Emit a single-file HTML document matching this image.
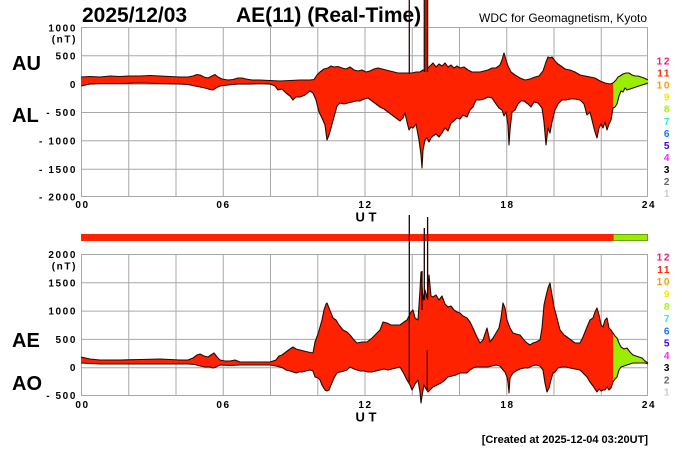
<!DOCTYPE html>
<html><head><meta charset="utf-8"><style>
html,body{margin:0;padding:0;background:#fff;width:700px;height:450px;overflow:hidden}
svg{display:block}
.t{font-family:"Liberation Sans",Arial,sans-serif;font-weight:bold}
.ax{font-family:"Liberation Sans",Arial,sans-serif;font-weight:bold;font-size:10px;letter-spacing:1.6px}
</style></head><body>
<svg width="700" height="450" viewBox="0 0 700 450" xmlns="http://www.w3.org/2000/svg">
<rect width="700" height="450" fill="#fff"/>
<!-- titles -->
<text class="t" x="82" y="22" font-size="21">2025/12/03</text>
<text class="t" x="236" y="22" font-size="21">AE(11) (Real-Time)</text>
<text x="479" y="22" font-size="12" font-family="Liberation Sans, Arial, sans-serif">WDC for Geomagnetism, Kyoto</text>

<!-- grid top -->
<g stroke="#a8a8a8" stroke-width="1" fill="none">
<path d="M81.5 27V197M128.75 27V197M176 27V197M223.25 27V197M270.5 27V197M317.75 27V197M365 27V197M412.25 27V197M459.5 27V197M506.75 27V197M554 27V197M601.25 27V197M647.5 27V197"/>
<path d="M81 27.5H648M81 55.8H648M81 84.2H648M81 112.5H648M81 140.8H648M81 169.2H648M81 196.5H648"/>
<path d="M81.5 254V395.5M128.75 254V395.5M176 254V395.5M223.25 254V395.5M270.5 254V395.5M317.75 254V395.5M365 254V395.5M412.25 254V395.5M459.5 254V395.5M506.75 254V395.5M554 254V395.5M601.25 254V395.5M647.5 254V395.5"/>
<path d="M81 254.5H648M81 282.8H648M81 311.1H648M81 339.4H648M81 367.7H648M81 395.5H648"/>
</g>

<!-- TOP CHART fill -->
<polygon fill="#ff2200" points="81,77 90,76.5 100,77 110,76 120,76.5 130,76 140,76 150,75.5 160,76 170,76.5 180,77 188,77 193,76 197,74.5 200,75 204,77 208,78 212,76 215,74.5 218,77 222,79 228,80 233,79.5 238,78 242,78 246,79 252,80 260,80 270,80.5 280,81 290,80.5 300,80 310,80 314,79.5 317,75 320,72 324,69 328,68 331,66 334,67 338,66.5 342,68 346,69 350,67 354,70 358,71 362,70 366,72 370,71 374,69 378,68 382,69 386,70 390,71 394,72 398,73 402,73 406,73 412,73 416,72 420,72 423,70 426,70 430,66 433,63 436,67 439,64 442,66 445,63 448,67 451,65 454,68 457,66 460,68 464,67 468,70 472,72 476,72 480,72 484,71 488,70 492,68 496,68 500,65 502,60 504,53 506,60 508,66 511,72 515,75 520,78 525,80 530,79 535,77 539,76 543,71 546,62 548,57 550,58 552,57 555,61 558,64 561,66 565,69 570,70 575,72 580,75 585,76 590,77 595,78 600,81 605,83 610,84 613,83 613,108 611,120 609,124 607,130 605,122 603,128 601,124 599,128 597,138 595,132 593,124 590,112 587,115 584,104 580,100 575,99 570,99 566,100 562,100 558,104 555,110 552,122 550,133 548,128 546,145 544,122 542,108 538,103 534,102 531,107 528,104 524,101 521,101 518,104 515,110 512,112 510,130 509,145 508,125 506,112 504,116 502,110 499,108 496,104 492,98 488,97 484,99 480,100 476,100 473,107 470,110 467,117 463,115 460,119 457,118 454,121 451,123 448,131 445,128 442,133 439,137 436,134 433,136 431,138 429,142 427,138 425,140 423,150 422,168 421,155 419,140 416,124 413,128 411,127 409,130 407,122 405,113 403,118 400,121 396,118 392,115 388,112 384,109 380,107 376,104 372,101 368,98 364,99 360,101 356,101 352,102 348,103 344,104 340,103 337,106 334,117 331,128 329,135 327,140 325,125 322,118 319,112 316,100 313,93 310,91 305,95 300,97 296,97 293,100 290,96 286,93 282,89 278,90 275,86 270,84 260,83.5 250,84 238,84 228,85 220,86 216,88 213,90 210,89.5 205,88 200,87 195,86 188,84.5 180,84 160,83.5 140,83 120,83.5 100,83.5 90,84 81,86"/>
<polygon fill="#99ee00" points="613,83 616,80 618,77 620,76 623,74 626,73 629,73 632,75 635,76 638,76 641,77 644,78 646,79 648,80 648,83 645,84 642,85 639,86 636,87 633,88 630,89 627,90 625,88 623,92 621,91 619,96 617,104 615,107 613,108"/>
<g fill="none" stroke="#2a0800" stroke-width="1.1" stroke-linejoin="round">
<polyline points="81,77 90,76.5 100,77 110,76 120,76.5 130,76 140,76 150,75.5 160,76 170,76.5 180,77 188,77 193,76 197,74.5 200,75 204,77 208,78 212,76 215,74.5 218,77 222,79 228,80 233,79.5 238,78 242,78 246,79 252,80 260,80 270,80.5 280,81 290,80.5 300,80 310,80 314,79.5 317,75 320,72 324,69 328,68 331,66 334,67 338,66.5 342,68 346,69 350,67 354,70 358,71 362,70 366,72 370,71 374,69 378,68 382,69 386,70 390,71 394,72 398,73 402,73 406,73 412,73 416,72 420,72 423,70 426,70 430,66 433,63 436,67 439,64 442,66 445,63 448,67 451,65 454,68 457,66 460,68 464,67 468,70 472,72 476,72 480,72 484,71 488,70 492,68 496,68 500,65 502,60 504,53 506,60 508,66 511,72 515,75 520,78 525,80 530,79 535,77 539,76 543,71 546,62 548,57 550,58 552,57 555,61 558,64 561,66 565,69 570,70 575,72 580,75 585,76 590,77 595,78 600,81 605,83 610,84 613,83 616,80 618,77 620,76 623,74 626,73 629,73 632,75 635,76 638,76 641,77 644,78 646,79 648,80"/>
<polyline points="81,86 90,84 100,83.5 120,83.5 140,83 160,83.5 180,84 188,84.5 195,86 200,87 205,88 210,89.5 213,90 216,88 220,86 228,85 238,84 250,84 260,83.5 270,84 275,86 278,90 282,89 286,93 290,96 293,100 296,97 300,97 305,95 310,91 313,93 316,100 319,112 322,118 325,125 327,140 329,135 331,128 334,117 337,106 340,103 344,104 348,103 352,102 356,101 360,101 364,99 368,98 372,101 376,104 380,107 384,109 388,112 392,115 396,118 400,121 403,118 405,113 407,122 409,130 411,127 413,128 416,124 419,140 421,155 422,168 423,150 425,140 427,138 429,142 431,138 433,136 436,134 439,137 442,133 445,128 448,131 451,123 454,121 457,118 460,119 463,115 467,117 470,110 473,107 476,100 480,100 484,99 488,97 492,98 496,104 499,108 502,110 504,116 506,112 508,125 509,145 510,130 512,112 515,110 518,104 521,101 524,101 528,104 531,107 534,102 538,103 542,108 544,122 546,145 548,128 550,133 552,122 555,110 558,104 562,100 566,100 570,99 575,99 580,100 584,104 587,115 590,112 593,124 595,132 597,138 599,128 601,124 603,128 605,122 607,130 609,124 611,120 613,108 615,107 617,104 619,96 621,91 623,92 625,88 627,90 630,89 633,88 636,87 639,86 642,85 645,84 648,83"/>
</g>
<!-- top spikes -->
<g stroke="#2a0800" stroke-width="1.3" fill="none">
<path d="M409.3 0V74M424.3 0V72M427.6 0V72"/>
</g>
<rect x="425" y="0" width="2" height="72" fill="#c01800"/>

<!-- status bar -->
<rect x="81" y="234" width="532" height="7" fill="#ff2200"/>
<rect x="613.5" y="234.5" width="34" height="6" fill="#99ee00" stroke="#6aa000" stroke-width="1"/>

<!-- BOTTOM CHART -->
<polygon fill="#ff2200" points="81,357 90,359 100,360 120,360 140,359.5 160,359 180,360 188,360 193,358 197,355 200,354 204,356 208,357 211,355 214,353 217,357 220,360 225,361 230,361 235,360 240,362 250,362 260,362 270,362 276,360 279,356 282,355 286,352 290,349 293,347 296,349 300,350 304,351 308,352 313,353 315,342 318,334 320,327 322,320 324,310 326,304 327,303 329,308 331,313 333,318 336,320 339,325 343,330 347,332 350,335 354,340 357,343 362,342 367,342 372,338 376,334 380,330 383,322 387,323 391,325 395,325 400,325 404,322 407,320 408,318 411,312 413,310 415,318 418,320 420,290 421,272 422,285 423,300 425,290 427,298 429,275 431,296 433,297 436,295 439,300 442,296 445,304 448,307 451,306 454,310 457,312 460,313 463,316 467,318 470,322 473,328 476,335 480,343 483,340 487,328 490,342 493,338 496,333 499,328 501,318 503,303 505,308 507,320 510,328 513,333 516,334 520,335 524,340 527,343 530,345 533,343 536,342 540,340 542,328 544,305 546,296 548,288 550,283 552,295 554,307 557,318 560,330 564,335 567,337 571,340 575,343 580,343 583,337 587,327 590,320 593,318 595,312 597,308 599,315 601,325 603,327 605,320 607,318 609,328 611,330 613,333 613,382 611,388 609,390 607,387 605,390 603,390 601,391 599,389 597,392 595,389 593,386 590,382 587,377 584,374 580,370 575,369 570,368 566,367 562,367 558,368 555,372 553,373 551,380 549,388 547,392 545,383 543,370 540,366 536,365 532,366 528,368 524,368 520,369 516,371 513,373 510,378 509,393 508,382 507,377 505,372 503,370 500,366 496,365 492,366 488,367 484,367 480,367 476,367 473,368 470,370 467,373 463,373 460,373 456,375 452,376 448,377 445,380 441,383 437,385 433,387 430,390 428,392 426,389 424,385 422,396 421,403 420,392 418,380 415,384 412,390 410,385 407,380 404,374 400,367 396,368 392,369 388,370 384,369 380,370 376,371 372,372 368,372 364,371 360,371 357,370 354,369 350,367 347,370 344,371 340,372 337,373 334,378 331,385 329,390 327,391 325,390 322,385 320,380 318,378 315,377 313,371 310,370 306,371 302,372 299,372 296,373 293,372 290,371 286,370 283,368 280,367 276,366 270,365 260,365 250,365 240,365 230,365.5 220,365 216,367 213,368 210,367 205,367 200,366 195,364.5 188,364 180,364 160,364 140,364 120,364 100,364 90,363.5 81,363"/>
<polygon fill="#99ee00" points="613,333 615,336 617,338 619,343 621,347 624,349 627,348 630,352 633,355 636,356 639,357 642,358 645,361 648,363 648,364 645,363 642,363 639,363 636,363 633,363 630,364 627,365 624,366 621,367 619,370 617,377 615,379 613,382"/>
<g fill="none" stroke="#2a0800" stroke-width="1.1" stroke-linejoin="round">
<polyline points="81,357 90,359 100,360 120,360 140,359.5 160,359 180,360 188,360 193,358 197,355 200,354 204,356 208,357 211,355 214,353 217,357 220,360 225,361 230,361 235,360 240,362 250,362 260,362 270,362 276,360 279,356 282,355 286,352 290,349 293,347 296,349 300,350 304,351 308,352 313,353 315,342 318,334 320,327 322,320 324,310 326,304 327,303 329,308 331,313 333,318 336,320 339,325 343,330 347,332 350,335 354,340 357,343 362,342 367,342 372,338 376,334 380,330 383,322 387,323 391,325 395,325 400,325 404,322 407,320 408,318 411,312 413,310 415,318 418,320 420,290 421,272 422,285 423,300 425,290 427,298 429,275 431,296 433,297 436,295 439,300 442,296 445,304 448,307 451,306 454,310 457,312 460,313 463,316 467,318 470,322 473,328 476,335 480,343 483,340 487,328 490,342 493,338 496,333 499,328 501,318 503,303 505,308 507,320 510,328 513,333 516,334 520,335 524,340 527,343 530,345 533,343 536,342 540,340 542,328 544,305 546,296 548,288 550,283 552,295 554,307 557,318 560,330 564,335 567,337 571,340 575,343 580,343 583,337 587,327 590,320 593,318 595,312 597,308 599,315 601,325 603,327 605,320 607,318 609,328 611,330 613,333 615,336 617,338 619,343 621,347 624,349 627,348 630,352 633,355 636,356 639,357 642,358 645,361 648,363"/>
<polyline points="648,364 645,363 642,363 639,363 636,363 633,363 630,364 627,365 624,366 621,367 619,370 617,377 615,379 613,382 611,388 609,390 607,387 605,390 603,390 601,391 599,389 597,392 595,389 593,386 590,382 587,377 584,374 580,370 575,369 570,368 566,367 562,367 558,368 555,372 553,373 551,380 549,388 547,392 545,383 543,370 540,366 536,365 532,366 528,368 524,368 520,369 516,371 513,373 510,378 509,393 508,382 507,377 505,372 503,370 500,366 496,365 492,366 488,367 484,367 480,367 476,367 473,368 470,370 467,373 463,373 460,373 456,375 452,376 448,377 445,380 441,383 437,385 433,387 430,390 428,392 426,389 424,385 422,396 421,403 420,392 418,380 415,384 412,390 410,385 407,380 404,374 400,367 396,368 392,369 388,370 384,369 380,370 376,371 372,372 368,372 364,371 360,371 357,370 354,369 350,367 347,370 344,371 340,372 337,373 334,378 331,385 329,390 327,391 325,390 322,385 320,380 318,378 315,377 313,371 310,370 306,371 302,372 299,372 296,373 293,372 290,371 286,370 283,368 280,367 276,366 270,365 260,365 250,365 240,365 230,365.5 220,365 216,367 213,368 210,367 205,367 200,366 195,364.5 188,364 180,364 160,364 140,364 120,364 100,364 90,363.5 81,363"/>
</g>
<g stroke="#1a0500" stroke-width="1.3" fill="none">
<path d="M409.3 215V382M424.3 228V300M427.6 217V300M422 271V310M427.3 350V390"/>
</g>

<!-- y labels top -->
<g class="ax" text-anchor="end" fill="#000">
<text x="77" y="31.5">1000</text>
<text x="77" y="42.5">(nT)</text>
<text x="77" y="59.5">500</text>
<text x="77" y="87.8">0</text>
<text x="77" y="116">- 500</text>
<text x="77" y="144.4">- 1000</text>
<text x="77" y="172.8">- 1500</text>
<text x="77" y="200.6">- 2000</text>
<text x="77" y="258">2000</text>
<text x="77" y="269.5">(nT)</text>
<text x="77" y="286.3">1500</text>
<text x="77" y="314.6">1000</text>
<text x="77" y="342.9">500</text>
<text x="77" y="371.2">0</text>
<text x="77" y="399">- 500</text>
</g>
<!-- x labels -->
<g class="ax" text-anchor="middle" fill="#000">
<text x="82.5" y="208">00</text>
<text x="223.5" y="208">06</text>
<text x="365.5" y="208">12</text>
<text x="507.5" y="208">18</text>
<text x="649" y="208">24</text>
<text x="82.5" y="408">00</text>
<text x="223.5" y="408">06</text>
<text x="365.5" y="408">12</text>
<text x="507.5" y="408">18</text>
<text x="649" y="408">24</text>
</g>
<text class="t" x="366" y="221.5" font-size="13" text-anchor="middle">U T</text>
<text class="t" x="366" y="421.5" font-size="13" text-anchor="middle">U T</text>

<!-- side labels -->
<text class="t" x="12" y="70" font-size="20">AU</text>
<text class="t" x="12" y="122" font-size="20">AL</text>
<text class="t" x="12" y="347" font-size="20">AE</text>
<text class="t" x="12" y="390" font-size="20">AO</text>

<!-- legend top -->
<g class="ax" text-anchor="end" font-size="10.5">
<text x="671" y="64.5" fill="#ff1177">12</text>
<text x="671" y="76.5" fill="#ff2a00">11</text>
<text x="671" y="88.6" fill="#ff9900">10</text>
<text x="671" y="100.7" fill="#f8e800">9</text>
<text x="671" y="112.7" fill="#99ff00">8</text>
<text x="671" y="124.8" fill="#33eecc">7</text>
<text x="671" y="136.8" fill="#1177ff">6</text>
<text x="671" y="148.9" fill="#3300ff">5</text>
<text x="671" y="160.9" fill="#ff22ff">4</text>
<text x="671" y="173" fill="#000">3</text>
<text x="671" y="185" fill="#666">2</text>
<text x="671" y="197" fill="#cccccc">1</text>
</g>
<!-- legend bottom -->
<g class="ax" text-anchor="end" font-size="10.5">
<text x="671" y="260.7" fill="#ff1177">12</text>
<text x="671" y="273" fill="#ff2a00">11</text>
<text x="671" y="285.2" fill="#ff9900">10</text>
<text x="671" y="297.5" fill="#f8e800">9</text>
<text x="671" y="309.8" fill="#99ff00">8</text>
<text x="671" y="322" fill="#33eecc">7</text>
<text x="671" y="334.3" fill="#1177ff">6</text>
<text x="671" y="346.6" fill="#3300ff">5</text>
<text x="671" y="358.9" fill="#ff22ff">4</text>
<text x="671" y="371.1" fill="#000">3</text>
<text x="671" y="383.4" fill="#666">2</text>
<text x="671" y="395.7" fill="#cccccc">1</text>
</g>

<text class="t" x="648" y="443" font-size="11" text-anchor="end">[Created at 2025-12-04 03:20UT]</text>
</svg>
</body></html>
